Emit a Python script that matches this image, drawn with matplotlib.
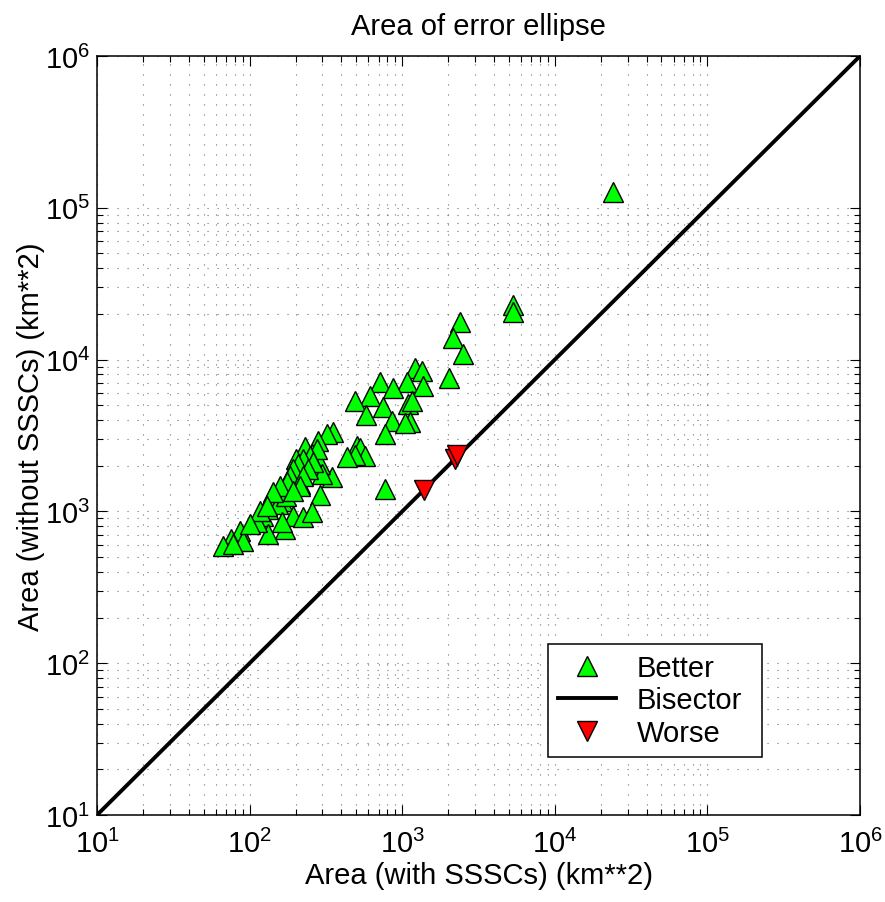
import matplotlib
matplotlib.use("Agg")
import matplotlib.pyplot as plt
from matplotlib.ticker import LogLocator, FixedLocator, NullFormatter

plt.rcParams['font.family'] = ['Liberation Sans', 'DejaVu Sans']
plt.rcParams['mathtext.fontset'] = 'custom'
plt.rcParams['mathtext.rm'] = 'Liberation Sans'

# Punkte, die besser geworden sind (Fläche mit / ohne SSSCs)
better_with = [24000, 5300, 5300, 2400, 2150, 2500, 2030, 1210, 1350, 1070,
               1370, 715, 870, 615, 490, 750, 1090, 1160, 580, 860,
               1120, 1040, 770, 350, 320, 280, 505, 530, 570, 490,
               435, 255, 224, 205, 347, 290, 770, 184, 166, 147,
               136, 163, 122, 192, 224, 171, 132, 112, 86, 75,
               67, 90, 78, 250, 290, 260, 214, 230, 240, 214,
               179, 153, 132, 117, 200, 298, 173, 101, 277, 249,
               224, 207, 192, 184, 176, 158, 142, 130, 260, 241,
               224, 214, 192, 163, 256]
better_without = [127000, 23000, 20500, 17700, 13900, 10900, 7600, 8800, 8400, 7100,
                  6700, 7100, 6500, 5750, 5300, 4870, 5100, 5340, 4300, 3950,
                  3880, 3820, 3240, 3340, 3240, 2900, 2700, 2620, 2320, 2350,
                  2280, 2390, 2050, 1710, 1690, 1280, 1400, 1560, 1340, 1245,
                  1210, 1170, 935, 935, 920, 765, 710, 850, 745, 660,
                  590, 640, 610, 2280, 2050, 1900, 1900, 2650, 2150, 1520,
                  1400, 1120, 1040, 1010, 2200, 1760, 1260, 825, 2580, 2320,
                  2200, 2050, 1900, 1710, 1560, 1470, 1340, 1090, 2110, 1900,
                  1710, 1470, 1360, 850, 990]

# Punkte, die schlechter geworden sind
worse_with = [1390, 2220, 2290]
worse_without = [1380, 2210, 2350]

bisector = [10, 1e6]

# Minor-Ticks wie bei MATLAB: in der letzten Dekade keine
minor_ticks = [m * 10.0**e for e in range(1, 5) for m in range(2, 10)]

fig = plt.figure(figsize=(8.85, 9.03), dpi=100)
ax = fig.add_axes([0.1096, 0.0963, 0.8622, 0.8406])

ax.set_xscale('log')
ax.set_yscale('log')
ax.set_xlim(10, 1e6)
ax.set_ylim(10, 1e6)

for axis in (ax.xaxis, ax.yaxis):
    axis.set_major_locator(LogLocator(base=10, numticks=10))
    axis.set_minor_locator(FixedLocator(minor_ticks))
    axis.set_minor_formatter(NullFormatter())

ax.grid(True, which='both', color='#707070', linestyle=(0, (1, 8)), linewidth=0.8)
ax.set_axisbelow(True)

ax.plot(better_with, better_without, linestyle='none', marker='^', markersize=14,
        markerfacecolor='#00ff00', markeredgecolor='k', markeredgewidth=1.0,
        label='Better', zorder=3)
ax.plot(bisector, bisector, color='k', linewidth=2.8, label='Bisector', zorder=2)
ax.plot(worse_with, worse_without, linestyle='none', marker='v', markersize=14,
        markerfacecolor='#ff0000', markeredgecolor='k', markeredgewidth=1.0,
        label='Worse', zorder=3)

ax.tick_params(which='both', direction='in', top=True, right=True, width=0.8)
ax.tick_params(which='major', length=7, labelsize=21)
ax.tick_params(which='minor', length=4)
ax.tick_params(axis='x', which='major', pad=10)
ax.tick_params(axis='y', which='major', pad=5)

for sp in ax.spines.values():
    sp.set_linewidth(1.1)

ax.set_title('Area of error ellipse', fontsize=21, pad=16)
ax.set_xlabel('Area (with SSSCs) (km**2)', fontsize=21, labelpad=2)
ax.set_ylabel('Area (without SSSCs) (km**2)', fontsize=21, labelpad=0)

leg = ax.legend(loc='lower left', bbox_to_anchor=(0.591, 0.0764, 0.2805, 0.145),
                mode='expand', fontsize=21, fancybox=False, framealpha=1,
                edgecolor='k', borderpad=0.35, handlelength=2.0,
                handletextpad=0.7, labelspacing=0.15, borderaxespad=0)
leg.get_frame().set_linewidth(1.1)

fig.savefig('out.png', dpi=100)
